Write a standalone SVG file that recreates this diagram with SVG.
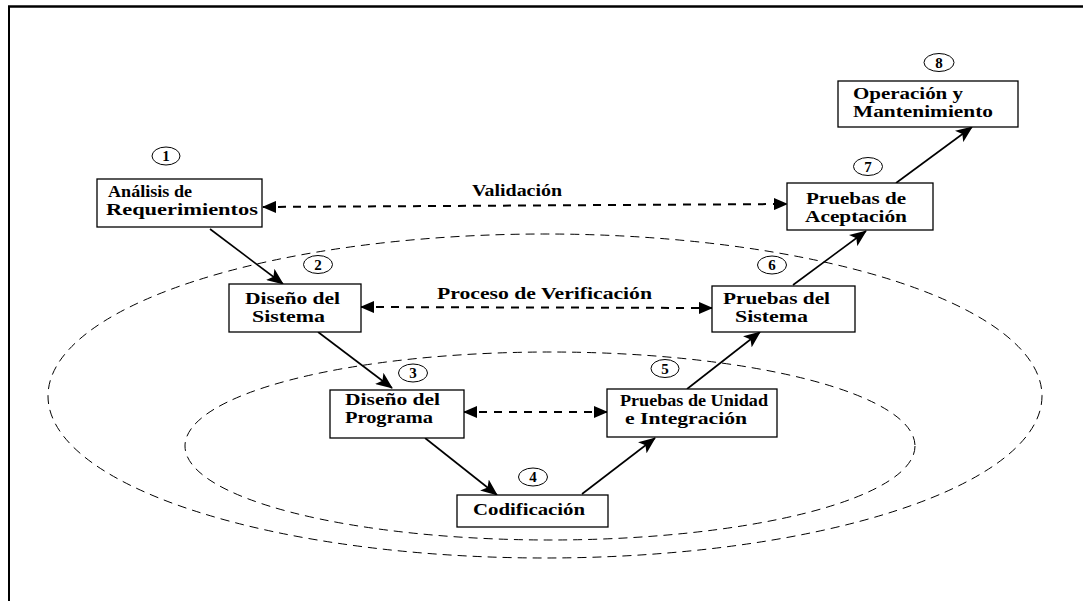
<svg xmlns="http://www.w3.org/2000/svg" width="1083" height="601" viewBox="0 0 1083 601">
<defs>
<marker id="ah" markerUnits="userSpaceOnUse" markerWidth="18" markerHeight="14" refX="16" refY="7" orient="auto-start-reverse">
<path d="M0,0 L17,7 L0,14 L4,7 z" fill="#000"/>
</marker>
<marker id="ahd" markerUnits="userSpaceOnUse" markerWidth="14" markerHeight="12" refX="13" refY="6" orient="auto-start-reverse">
<path d="M0,0 L14,6 L0,12 z" fill="#000"/>
</marker>
<style>
.box{fill:#fff;stroke:#000;stroke-width:1.3}
.t{font-family:"Liberation Serif","Times New Roman",serif;font-weight:bold;font-size:16px;fill:#000}
.n{font-family:"Liberation Serif","Times New Roman",serif;font-weight:bold;font-size:15px;fill:#000;text-anchor:middle}
.c{fill:#fff;stroke:#000;stroke-width:1}
.ell{fill:none;stroke:#000;stroke-width:1;stroke-dasharray:9,6}
.sa{stroke:#000;stroke-width:1.6;fill:none;marker-end:url(#ah)}
.da{stroke:#000;stroke-width:2;fill:none;stroke-dasharray:8,7;marker-start:url(#ahd);marker-end:url(#ahd)}
</style>
</defs>
<rect width="1083" height="601" fill="#fff"/>
<g id="frame">
<line x1="8" y1="6.5" x2="1083" y2="6.5" stroke="#000" stroke-width="2.5"/>
<line x1="9" y1="6" x2="9" y2="601" stroke="#000" stroke-width="2"/>
</g>
<g id="ellipses">
<ellipse class="ell" cx="545" cy="396" rx="497" ry="162"/>
<ellipse class="ell" cx="550" cy="446" rx="365" ry="94"/>
</g>
<g id="connectors">
<line class="sa" x1="210" y1="229" x2="283" y2="284"/>
<line class="sa" x1="318" y1="332" x2="392" y2="388"/>
<line class="sa" x1="425" y1="438" x2="497" y2="495"/>
<line class="sa" x1="582" y1="494" x2="655" y2="438"/>
<line class="sa" x1="687" y1="389" x2="760" y2="332"/>
<line class="sa" x1="793" y1="285" x2="866" y2="231"/>
<line class="sa" x1="896" y1="183" x2="972" y2="127"/>
<line class="da" x1="263" y1="207" x2="787" y2="204"/>
<line class="da" x1="361" y1="307" x2="712" y2="308"/>
<line class="da" x1="464" y1="412" x2="607" y2="412"/>
<text class="t" x="472" y="196" textLength="90" lengthAdjust="spacingAndGlyphs">Validación</text>
<text class="t" x="437" y="299" textLength="215" lengthAdjust="spacingAndGlyphs">Proceso de Verificación</text>
</g>
<g id="n1">
<rect class="box" x="97" y="179" width="165" height="48"/>
<text class="t" x="108" y="197" textLength="84" lengthAdjust="spacingAndGlyphs">Análisis de</text>
<text class="t" x="106" y="215" textLength="152" lengthAdjust="spacingAndGlyphs">Requerimientos</text>
<ellipse class="c" cx="166" cy="156" rx="14" ry="9"/>
<text class="n" x="166" y="161">1</text>
</g>
<g id="n2">
<rect class="box" x="229" y="284" width="132" height="48"/>
<text class="t" x="245" y="304" textLength="95" lengthAdjust="spacingAndGlyphs">Diseño del</text>
<text class="t" x="252" y="322" textLength="73" lengthAdjust="spacingAndGlyphs">Sistema</text>
<ellipse class="c" cx="318" cy="264.5" rx="14.5" ry="9"/>
<text class="n" x="318" y="269.5">2</text>
</g>
<g id="n3">
<rect class="box" x="330" y="390" width="134" height="48"/>
<text class="t" x="345" y="405" textLength="95" lengthAdjust="spacingAndGlyphs">Diseño del</text>
<text class="t" x="345" y="423" textLength="88" lengthAdjust="spacingAndGlyphs">Programa</text>
<ellipse class="c" cx="413" cy="373" rx="14.5" ry="9"/>
<text class="n" x="413" y="378">3</text>
</g>
<g id="n4">
<rect class="box" x="457" y="495" width="151" height="32"/>
<text class="t" x="473" y="515" textLength="112" lengthAdjust="spacingAndGlyphs">Codificación</text>
<ellipse class="c" cx="533" cy="477" rx="14.5" ry="9"/>
<text class="n" x="533" y="482">4</text>
</g>
<g id="n5">
<rect class="box" x="607" y="389" width="170" height="48"/>
<text class="t" x="620" y="406" textLength="148" lengthAdjust="spacingAndGlyphs">Pruebas de Unidad</text>
<text class="t" x="625" y="424" textLength="122" lengthAdjust="spacingAndGlyphs">e Integración</text>
<ellipse class="c" cx="665" cy="368.5" rx="14" ry="9"/>
<text class="n" x="665" y="373.5">5</text>
</g>
<g id="n6">
<rect class="box" x="712" y="286" width="143" height="46"/>
<text class="t" x="723" y="304" textLength="107" lengthAdjust="spacingAndGlyphs">Pruebas del</text>
<text class="t" x="735" y="322" textLength="73" lengthAdjust="spacingAndGlyphs">Sistema</text>
<ellipse class="c" cx="772" cy="265" rx="14.5" ry="9"/>
<text class="n" x="772" y="270">6</text>
</g>
<g id="n7">
<rect class="box" x="787" y="183" width="146" height="47"/>
<text class="t" x="806" y="204" textLength="100" lengthAdjust="spacingAndGlyphs">Pruebas de</text>
<text class="t" x="805" y="222" textLength="102" lengthAdjust="spacingAndGlyphs">Aceptación</text>
<ellipse class="c" cx="868" cy="166.5" rx="14.5" ry="9"/>
<text class="n" x="868" y="171.5">7</text>
</g>
<g id="n8">
<rect class="box" x="838" y="81" width="180" height="46"/>
<text class="t" x="853" y="99" textLength="110" lengthAdjust="spacingAndGlyphs">Operación y</text>
<text class="t" x="853" y="117" textLength="140" lengthAdjust="spacingAndGlyphs">Mantenimiento</text>
<ellipse class="c" cx="939" cy="62.5" rx="15" ry="9"/>
<text class="n" x="939" y="67.5">8</text>
</g>
</svg>
